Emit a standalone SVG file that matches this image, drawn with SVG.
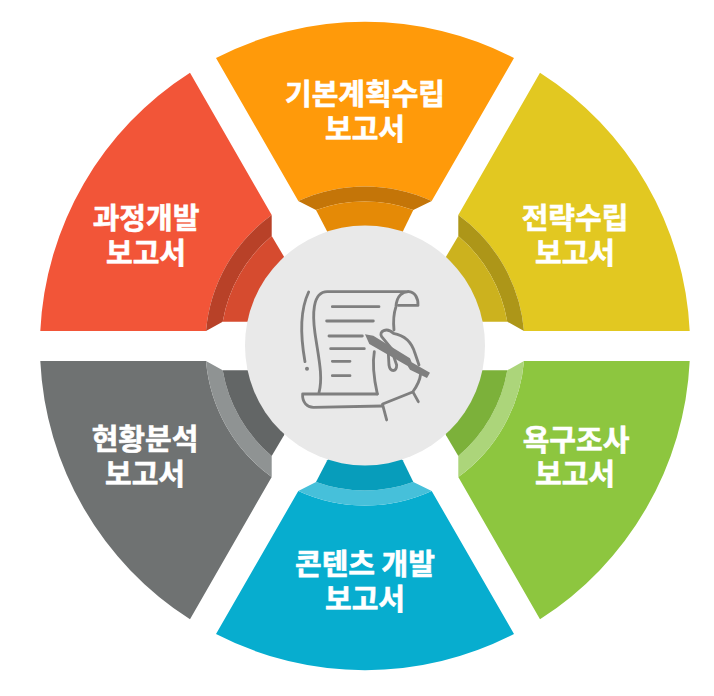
<svg xmlns="http://www.w3.org/2000/svg" xmlns:xlink="http://www.w3.org/1999/xlink" width="714" height="696" viewBox="0 0 714 696">
<style>
.t{font-family:"Noto Sans CJK KR","Noto Sans",sans-serif;font-weight:700;font-size:29px;fill:#fff;text-anchor:middle;stroke:#fff;stroke-width:.6px}
.ic{fill:none;stroke:#7f7f7f;stroke-width:8.5;stroke-linecap:round;stroke-linejoin:round}
</style>
<defs>
<path id="sm" d="M40.3 331A325 325 0 0 1 190 72.7L271.7 215A160 160 0 0 0 206 331Z"/>
<path id="sb" d="M206 331A160 160 0 0 1 271.7 215L271.7 236A144 144 0 0 0 222.7 321.7Z"/>
<path id="si" d="M222.7 321.7A144 144 0 0 1 271.7 236L284 256.7L300 300L248 321.7Z"/>
<path id="tm" d="M216 58A325 325 0 0 1 514 58L431.7 201A160 160 0 0 0 298.3 201Z"/>
<path id="tb" d="M298.3 201A160 160 0 0 1 431.7 201L413.3 210A144 144 0 0 0 316 210Z"/>
<path id="ti" d="M316 210A144 144 0 0 1 413.3 210L402.7 231.7L365 260L327.3 231.7Z"/>
</defs>
<rect width="714" height="696" fill="#fff"/>
<g id="node-plan">
<use href="#tm" fill="#ff9a0a"/><use href="#tb" fill="#c47508"/><use href="#ti" fill="#e58a06"/>
<text class="t" x="365" y="105">기본계획수립</text><text class="t" x="365" y="140">보고서</text>
</g>
<g id="node-strategy">
<g transform="matrix(-1 0 0 1 730 0)"><use href="#sm" fill="#e2c821"/><use href="#sb" fill="#ad9618"/><use href="#si" fill="#ccb21e"/></g>
<text class="t" x="575" y="229">전략수립</text><text class="t" x="575" y="264">보고서</text>
</g>
<g id="node-needs">
<g transform="matrix(-1 0 0 -1 730 692)"><use href="#sm" fill="#8dc63f"/><use href="#sb" fill="#acd57a"/><use href="#si" fill="#7cb13a"/></g>
<text class="t" x="576" y="451">욕구조사</text><text class="t" x="575" y="485">보고서</text>
</g>
<g id="node-content">
<g transform="matrix(1 0 0 -1 0 692)"><use href="#tm" fill="#07adcf"/><use href="#tb" fill="#46c0da"/><use href="#ti" fill="#079dbb"/></g>
<text class="t" x="365" y="575">콘텐츠 개발</text><text class="t" x="365" y="610">보고서</text>
</g>
<g id="node-status">
<g transform="matrix(1 0 0 -1 0 692)"><use href="#sm" fill="#6f7272"/><use href="#sb" fill="#8f9393"/><use href="#si" fill="#636666"/></g>
<text class="t" x="145" y="450">현황분석</text><text class="t" x="145" y="485">보고서</text>
</g>
<g id="node-process">
<use href="#sm" fill="#f25538"/><use href="#sb" fill="#b84128"/><use href="#si" fill="#d64b2f"/>
<text class="t" x="146" y="229">과정개발</text><text class="t" x="146" y="264">보고서</text>
</g>
<g id="node-center">
<circle cx="365" cy="345.5" r="120" fill="#e9e9e9"/>
<g transform="translate(240 220) scale(.3333)">
<path class="ic" d="M206 216C185 260 178 330 195 425"/>
<circle cx="201" cy="446" r="6" fill="#7f7f7f"/>
<path class="ic" d="M237 518C250 470 235 410 225 340C218 290 215 215 262 215L505 215C490 215 470 225 468 260C458 290 460 310 462 330"/>
<path class="ic" d="M505 215C525 215 535 235 534 256L475 256"/>
<path class="ic" d="M277 260H417M260 303H400M267 348H367M272 386H373M277 424H330M277 467H330"/>
<path class="ic" d="M412 522H188C186 548 202 562 220 562L428 558"/>
<path class="ic" d="M412 522C405 490 395 440 403 395"/>
<path class="ic" d="M428 552L518 516C530 500 540 480 542 462"/>
<path class="ic" d="M428 555L440 600M520 518L535 545"/>
<path class="ic" d="M445 400L447 435C450 457 470 457 470 435L462 412"/>
<path class="ic" d="M462 395L425 350C415 335 440 320 460 340C490 345 515 365 525 400L537 435"/>
<path d="M375 343L400 347L510 415L515 427L570 458L561 474L510 449L503 438L388 372Z" fill="#7f7f7f"/>
</g>
</g>
</svg>
